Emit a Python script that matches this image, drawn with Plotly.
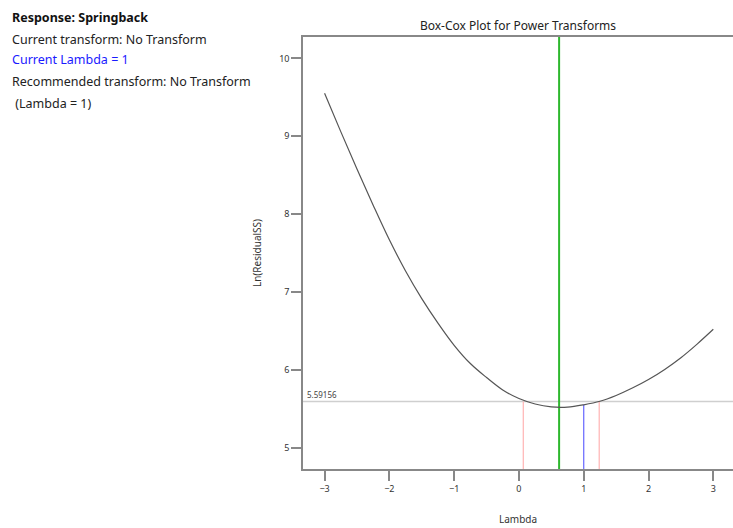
import numpy as np
import plotly.graph_objects as go

# Box-Cox curve
lambda_vals = [-3.0, -2.75, -2.5, -2.25, -2.0, -1.75, -1.5, -1.25, -1.0, -0.75, -0.5, -0.25,
               0.0, 0.25, 0.5, 0.75, 1.0, 1.25, 1.5, 1.75, 2.0, 2.25, 2.5, 2.75, 3.0]
ln_ss = [9.552, 9.06, 8.58, 8.115, 7.67, 7.27, 6.915, 6.6, 6.315, 6.08, 5.9, 5.74,
         5.63, 5.56, 5.523, 5.52, 5.55, 5.595, 5.67, 5.765, 5.875, 6.005, 6.155, 6.33, 6.52]

best_lambda = 0.62
ci_low = 0.067
ci_high = 1.239
current_lambda = 1.0
threshold = 5.59156
threshold_label = "5.59156"

x_ticks = [-3, -2, -1, 0, 1, 2, 3]
y_ticks = [5, 6, 7, 8, 9, 10]

info_lines = [
    ("<b>Response: Springback</b>", "#111111"),
    ("Current transform: No Transform", "#222222"),
    ("Current Lambda = 1", "#1a1aff"),
    ("Recommended transform: No Transform", "#222222"),
    (" (Lambda = 1)", "#222222"),
]

y_lo, y_hi = 4.725, 10.276
x_lo, x_hi = -3.333, 3.304

W, H = 733, 528
ML, MR, MT, MB = 303, 0, 37, 59
PW, PH = W - ML - MR, H - MT - MB

fig = go.Figure()

# threshold line
fig.add_trace(go.Scatter(x=[x_lo, x_hi], y=[threshold, threshold], mode="lines",
                         line=dict(color="#cfcfcf", width=1.5), hoverinfo="skip"))
# CI lines
for lv in (ci_low, ci_high):
    fig.add_trace(go.Scatter(x=[lv, lv], y=[y_lo, threshold], mode="lines",
                             line=dict(color="#ffb3b3", width=1.2), hoverinfo="skip"))
# current lambda line
cur_y = float(np.interp(current_lambda, lambda_vals, ln_ss))
fig.add_trace(go.Scatter(x=[current_lambda, current_lambda], y=[y_lo, cur_y], mode="lines",
                         line=dict(color="#6666ff", width=1.2), hoverinfo="skip"))
# best lambda line
fig.add_trace(go.Scatter(x=[best_lambda, best_lambda], y=[y_lo, y_hi], mode="lines",
                         line=dict(color="#2db82d", width=2), hoverinfo="skip"))
# curve
fig.add_trace(go.Scatter(x=lambda_vals, y=ln_ss, mode="lines", line_shape="spline",
                         line=dict(color="#555555", width=1.2)))

annotations = [
    dict(x=x_lo, y=threshold, xref="x", yref="y", text=threshold_label, showarrow=False,
         xanchor="left", yanchor="bottom", xshift=2, yshift=0,
         font=dict(size=8, color="#444444")),
]
line_ys = [17, 39, 60, 82, 103]
for (txt, col), py in zip(info_lines, line_ys):
    annotations.append(dict(x=(10 - ML) / PW, y=(H - MB - py) / PH, xref="paper", yref="paper",
                            text=txt, showarrow=False, xanchor="left", yanchor="middle",
                            font=dict(size=12.5, color=col)))

fig.update_layout(
    width=W, height=H,
    margin=dict(l=ML, r=MR, t=MT, b=MB),
    paper_bgcolor="white", plot_bgcolor="white",
    showlegend=False,
    font=dict(family="Noto Sans, Open Sans, sans-serif", color="#333333"),
    title=dict(text="Box-Cox Plot for Power Transforms", x=518 / W, xanchor="center",
               y=1 - 26 / H, yanchor="middle", font=dict(size=12, color="#222222")),
    xaxis=dict(range=[x_lo, x_hi], tickvals=x_ticks, ticks="outside", ticklen=10,
               tickcolor="#888888", tickwidth=1.5, showline=True, linecolor="#888888",
               linewidth=1.5, mirror=True, showgrid=False, zeroline=False, automargin=False,
               tickfont=dict(size=9, color="#333333"),
               title=dict(text="Lambda", font=dict(size=10, color="#333333"), standoff=22)),
    yaxis=dict(range=[y_lo, y_hi], tickvals=y_ticks, ticks="outside", ticklen=10,
               tickcolor="#888888", tickwidth=1.5, showline=True, linecolor="#888888",
               linewidth=1.5, showgrid=False, zeroline=False, automargin=False,
               tickfont=dict(size=9, color="#333333"),
               title=dict(text="Ln(ResidualSS)", font=dict(size=10, color="#333333"), standoff=16)),
    annotations=annotations,
)

fig.write_html("out.html", config={"displayModeBar": False},
               post_script="document.body.style.margin='0';")
